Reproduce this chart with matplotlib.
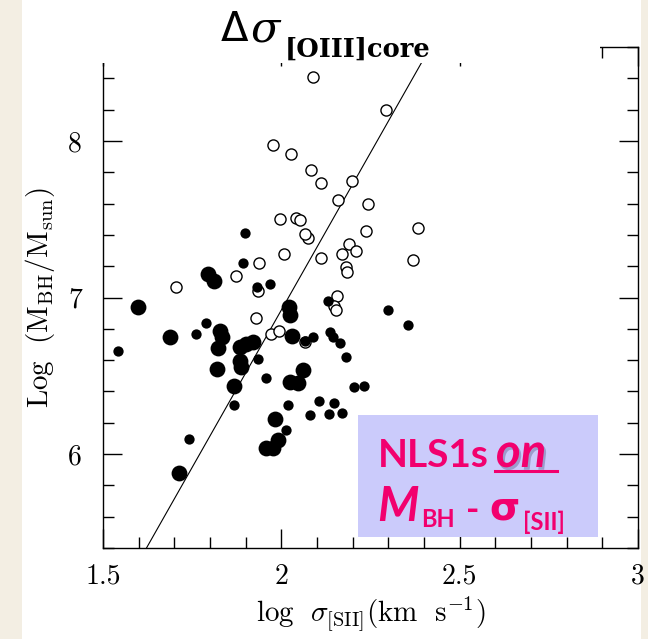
import numpy as np
import matplotlib
matplotlib.use('Agg')
import matplotlib.pyplot as plt
from matplotlib.patches import Rectangle
from matplotlib.lines import Line2D
from matplotlib.ticker import FixedLocator, MultipleLocator
import matplotlib.patheffects as pe

plt.rcParams['font.family'] = 'serif'
plt.rcParams['font.serif'] = ['cmr10']
plt.rcParams['mathtext.fontset'] = 'cm'
plt.rcParams['axes.unicode_minus'] = False

# NLS1s with large [OIII] core offset (open) and the rest (filled)
open_x = [2.089, 2.294, 1.977, 2.028, 2.084, 2.110, 2.198, 2.158, 2.243, 1.995,
          2.042, 2.051, 2.382, 2.236, 2.075, 2.065, 2.191, 2.208, 2.171, 2.111,
          2.007, 2.368, 1.937, 2.182, 2.184, 1.874, 1.704, 2.157, 2.149, 2.152,
          1.934, 1.930, 1.972, 1.994, 2.067]
open_y = [8.406, 8.197, 7.975, 7.915, 7.813, 7.733, 7.742, 7.624, 7.599, 7.502,
          7.510, 7.492, 7.443, 7.422, 7.380, 7.403, 7.343, 7.300, 7.275, 7.251,
          7.279, 7.239, 7.220, 7.193, 7.166, 7.140, 7.065, 7.010, 6.948, 6.921,
          7.044, 6.870, 6.767, 6.786, 6.713]

big_x = [1.599, 1.688, 1.714, 1.795, 1.811, 1.827, 1.833, 1.823, 1.821, 1.883,
         1.902, 1.921, 1.883, 1.888, 1.868, 2.022, 2.023, 2.030, 2.061, 2.023,
         2.047, 1.981, 1.991, 1.977, 1.958]
big_y = [6.937, 6.745, 5.881, 7.151, 7.108, 6.788, 6.750, 6.679, 6.543, 6.681,
         6.703, 6.718, 6.596, 6.553, 6.433, 6.942, 6.891, 6.756, 6.535, 6.462,
         6.452, 6.223, 6.088, 6.039, 6.041]

small_x = [1.543, 1.742, 1.762, 1.790, 1.868, 1.897, 1.893, 1.932, 1.969, 1.935,
           1.956, 2.065, 2.089, 2.020, 2.014, 2.107, 2.079, 2.131, 2.137, 2.145,
           2.165, 2.182, 2.205, 2.233, 2.149, 2.133, 2.171, 2.298, 2.354]
small_y = [6.657, 6.095, 6.767, 6.836, 6.316, 7.411, 7.220, 7.067, 7.089, 6.606,
           6.487, 6.724, 6.747, 6.316, 6.155, 6.337, 6.247, 6.980, 6.782, 6.750,
           6.709, 6.617, 6.430, 6.436, 6.327, 6.259, 6.265, 6.919, 6.827]

# M-sigma relation: log M = a + b * log(sigma / 200)
fit_a = 8.13
fit_b = 4.02

xticks = [1.5, 2.0, 2.5, 3.0]
xtick_labels = ['1.5', '2', '2.5', '3']
yticks = [6, 7, 8]
ytick_labels = ['6', '7', '8']

W, H = 648, 639
fig = plt.figure(figsize=(W / 100, H / 100), dpi=100)
fig.patch.set_facecolor('#F3EEE3')
fig.add_artist(Rectangle((22 / W, 0), (641 - 22) / W, 1, transform=fig.transFigure,
                         facecolor='white', edgecolor='none', zorder=-1))

ax = fig.add_axes([103 / W, 1 - 548 / H, 535 / W, 501 / H])
ax.set_xlim(1.5, 3.0)
ax.set_ylim(5.4, 8.6)

ax.scatter(open_x, open_y, s=64, facecolor='white', edgecolor='black', linewidth=1.0, zorder=2)
ax.scatter(big_x, big_y, s=130, color='black', linewidth=0, zorder=3)
ax.scatter(small_x, small_y, s=55, color='black', linewidth=0, zorder=3)

xs = np.linspace(1.5, 3.0, 50)
ax.plot(xs, fit_a + fit_b * (xs - np.log10(200)), color='black', linewidth=0.8, zorder=1)

ax.xaxis.set_major_locator(FixedLocator(xticks))
ax.set_xticklabels(xtick_labels)
ax.yaxis.set_major_locator(FixedLocator(yticks))
ax.set_yticklabels(ytick_labels)
ax.xaxis.set_minor_locator(MultipleLocator(0.1))
ax.yaxis.set_minor_locator(MultipleLocator(0.2))
ax.tick_params(which='both', direction='in', top=True, right=True, width=1.0, labelsize=20)
ax.tick_params(which='major', length=14)
ax.tick_params(axis='x', which='major', pad=11)
ax.tick_params(axis='y', which='major', pad=15)
ax.tick_params(which='minor', length=8)
for sp in ax.spines.values():
    sp.set_linewidth(1.0)

ax.set_xlabel(r'$\mathrm{log}\ \ \sigma_{\mathrm{[SII]}}\mathrm{(km\ \ s^{-1})}$', fontsize=21, labelpad=4)
ax.set_ylabel(r'$\mathrm{Log\ \ (M_{BH}/M_{sun})}$', fontsize=21, labelpad=8)

# title panel over the top of the frame
fig.add_artist(Rectangle((90 / W, 1 - 63 / H), (600 - 90) / W, 63 / H, transform=fig.transFigure,
                         facecolor='white', edgecolor='none', zorder=5))
fig.text(221 / W, 1 - 41 / H, 'Δ', family='DejaVu Sans', fontsize=29, va='baseline', zorder=6)
fig.text(251 / W, 1 - 41 / H, 'σ', family='DejaVu Serif', style='italic', fontsize=31,
         va='baseline', zorder=6)
fig.text(285 / W, 1 - 57 / H, '[OIII]core', family='DejaVu Serif', fontweight='bold',
         fontsize=18.5, va='baseline', zorder=6)

# label box
pink = '#F2006E'
fig.add_artist(Rectangle((358 / W, 1 - 537 / H), 240 / W, 122 / H, transform=fig.transFigure,
                         facecolor='#CBCBFB', edgecolor='none', zorder=5))
fig.text(378 / W, 1 - 467 / H, 'NLS1s', family='Lato', fontweight='bold', fontsize=28,
         color=pink, va='baseline', zorder=6)
shadow = [pe.withSimplePatchShadow(offset=(1.5, -2), shadow_rgbFace='#303060', alpha=0.3)]
fig.text(496 / W, 1 - 467 / H, 'on', family='Lato', fontweight='bold', style='italic',
         fontsize=34, color=pink, va='baseline', zorder=6, path_effects=shadow)
fig.add_artist(Line2D([495 / W, 557 / W], [1 - 471 / H, 1 - 471 / H], transform=fig.transFigure,
                      color=pink, linewidth=2.2, zorder=6,
                      path_effects=[pe.withSimplePatchShadow(offset=(2, -3), shadow_rgbFace='#303060',
                                                             alpha=0.45)]))
fig.text(377 / W, 1 - 521 / H, 'M', family='Lato', fontweight='bold', style='italic',
         fontsize=34, color=pink, va='baseline', zorder=6)
fig.text(421 / W, 1 - 527 / H, 'BH', family='Lato', fontweight='bold', fontsize=17,
         color=pink, va='baseline', zorder=6)
fig.text(466 / W, 1 - 521 / H, '-', family='Lato', fontweight='bold', fontsize=26,
         color=pink, va='baseline', zorder=6)
fig.text(489 / W, 1 - 519 / H, 'σ', family='DejaVu Sans', fontweight='bold', fontsize=28,
         color=pink, va='baseline', zorder=6)
fig.text(523 / W, 1 - 530 / H, '[SII]', family='Lato', fontweight='bold', fontsize=17,
         color=pink, va='baseline', zorder=6)

fig.savefig('out.png', dpi=100, facecolor=fig.get_facecolor())
